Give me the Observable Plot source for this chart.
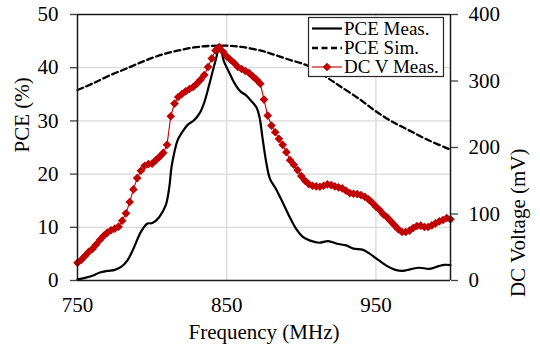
<!DOCTYPE html>
<html>
<head>
<meta charset="utf-8">
<script src="https://cdn.jsdelivr.net/npm/d3@7"></script>
<script src="https://cdn.jsdelivr.net/npm/@observablehq/plot@0.6"></script>
<style>
  html, body { margin: 0; padding: 0; background: #fff; }
  #chart { width: 540px; height: 352px; }
</style>
</head>
<body>
<div id="chart"></div>
<script>
// ---- Data ----
const freqTicks = [750, 850, 950];
const pceTicks = [0, 10, 20, 30, 40, 50];
const dcTicks = [0, 100, 200, 300, 400];

const pceMeasFreq = [750,755,760,765,770,775,779,783.5,788,792.4,796.9,800.2,804.7,809.1,811.5,813,815,817,820,824,828,832,835,838,842,845.5,848,851,855,859,863,866,870,872,874,876.5,879,883,888,893,897,901,906,912,918,924,930,935,941,946,950,957,963,968,973,979,986,992,996,1000];
const pceMeasVal = [0.2,0.5,0.9,1.5,1.8,2.0,2.5,3.8,6.3,9.1,10.7,10.8,11.9,14.1,17.5,21.3,24.2,26.3,27.8,29.3,30.1,31.5,33.5,36.5,40.8,43.9,41.3,39.5,37.2,35.6,34.8,33.9,32.5,30.7,26.8,22.2,19.1,17.2,14.4,11.5,9.5,8.2,7.5,7.1,7.4,6.9,6.6,6.0,5.8,5.0,4.2,2.8,2.0,1.8,2.1,2.4,2.2,2.7,2.95,2.9];

const pceSimFreq = [750,760,772,785,795,806,817,828,839,850,860,873,880,892,904,917,925,939,949,960,971,985,1000];
const pceSimVal = [35.8,37.0,38.6,40.1,41.3,42.4,43.2,43.8,44.1,44.15,43.9,43.2,42.6,41.5,40.4,38.2,36.7,34.1,32.0,30.0,28.4,26.4,24.6];

const dcFreq = [750,752.5,755,757.5,760,762.5,765,767.5,770,772.5,775,777.5,780,782.5,785,787.5,790,792.5,795,797.5,800,802.5,805,807.5,810,812.5,815,817.5,820,822.5,825,827.5,830,832.5,835,837.5,840,842.5,845,847.5,850,852.5,855,857.5,860,862.5,865,867.5,870,872.5,875,877.5,880,882.5,885,887.5,890,892.5,895,897.5,900,902.5,905,907.5,910,912.5,915,917.5,920,922.5,925,927.5,930,932.5,935,937.5,940,942.5,945,947.5,950,952.5,955,957.5,960,962.5,965,967.5,970,972.5,975,977.5,980,982.5,985,987.5,990,992.5,995,997.5,1000];
const dcVal = [26.6,31,37,43,47.5,54,61,67,72,75.5,78,81,90,101,118,137,154,165,172.5,175,175.7,181,186,192,204,247,266,276,280.5,284.5,288,291,296,302,309,321,334,346,351,344,337,332,327,321,318,315,312,307,302,296,272,248,233,223,213,204,193,181,174,166,157,150,145,142.5,141.5,141,142.5,144.5,143.5,141.5,140,138.5,135,131.5,130.5,130,128.5,126,122,117,111,106,99.5,95,89,83,77,73,73,75,79,82,82.5,80.5,80.5,83,86,89,91,94,92];

const legendLabels = ["PCE Meas.", "PCE Sim.", "DC V Meas."];

// ---- Tables for the library ----
const measData = pceMeasFreq.map((f, i) => ({f, v: pceMeasVal[i]}));
const simData = pceSimFreq.map((f, i) => ({f, v: pceSimVal[i]}));
const dcData = dcFreq.map((f, i) => ({f, v: dcVal[i]}));
const DC_PER_PCE = 8; // right axis 0..400 mV maps onto left 0..50 %

const red = "#c00000";
const axisColor = "#1a1a1a";
const gridColor = "#d9d9d9";
const font = "'Liberation Serif', 'Times New Roman', serif";
const markerR = 3.9;

const svg = Plot.plot({
  width: 540,
  height: 352,
  marginLeft: 77,
  marginRight: 90,
  marginTop: 14,
  marginBottom: 72,
  style: {fontFamily: font, fontSize: "21px", color: "#000", background: "#fff"},
  x: {domain: [750, 1000]},
  y: {domain: [0, 50]},
  marks: [
    Plot.gridY(pceTicks.slice(1, -1), {stroke: gridColor, strokeOpacity: 1, strokeWidth: 1.3}),
    Plot.gridX(freqTicks.slice(1), {stroke: gridColor, strokeOpacity: 1, strokeWidth: 1.3}),
    Plot.line(simData, {x: "f", y: "v", stroke: "#000", strokeWidth: 2.3, strokeDasharray: "6,3.5", curve: "catmull-rom"}),
    Plot.line(measData, {x: "f", y: "v", stroke: "#000", strokeWidth: 2.2, curve: "catmull-rom"}),
    Plot.line(dcData, {x: "f", y: d => d.v / DC_PER_PCE, stroke: red, strokeWidth: 1.1}),
    Plot.dot(dcData, {x: "f", y: d => d.v / DC_PER_PCE, symbol: "diamond2", r: markerR, fill: red, stroke: "none"}),
    Plot.ruleX([750, 1000], {stroke: axisColor, strokeWidth: 1.5}),
    Plot.ruleY([0, 50], {stroke: axisColor, strokeWidth: 1.5}),
    Plot.axisY({anchor: "left", ticks: pceTicks, tickSize: 7, tickPadding: 12, fontSize: 21, stroke: "#404040", strokeWidth: 1.3, label: null, tickFormat: d => String(d)}),
    Plot.axisY({anchor: "right", ticks: dcTicks.map(v => v / DC_PER_PCE), tickSize: 7, tickPadding: 11, fontSize: 21, stroke: "#404040", strokeWidth: 1.3, label: null, tickFormat: d => String(Math.round(d * DC_PER_PCE))}),
    Plot.axisX({ticks: freqTicks, tickSize: 0, tickPadding: 17, fontSize: 21, label: null, tickFormat: d => String(d)}),
    Plot.text(["Frequency (MHz)"], {frameAnchor: "bottom", dy: 58, fontSize: 21, fill: "#000"}),
    Plot.text(["PCE (%)"], {frameAnchor: "left", dx: -55, dy: 5, rotate: -90, fontSize: 21, fill: "#000"}),
    Plot.text(["DC Voltage (mV)"], {frameAnchor: "right", dx: 68, dy: 1, rotate: -90, fontSize: 21, fill: "#000"})
  ]
});

// ---- Legend (inside the plot, top right) ----
const lg = d3.select(svg).append("g")
  .style("font-family", font).style("font-size", "19px").style("text-anchor", "start");
lg.append("rect").attr("x", 308.5).attr("y", 17.5).attr("width", 135).attr("height", 59)
  .attr("fill", "#fff").attr("stroke", "#262626").attr("stroke-width", 1.2);
const rowsY = [28.5, 48, 67];
const styles = [
  {stroke: "#000", w: 2.2, dash: null, marker: false},
  {stroke: "#000", w: 2.3, dash: "6,3.5", marker: false},
  {stroke: red, w: 1.1, dash: null, marker: true}
];
legendLabels.forEach((label, i) => {
  const y = rowsY[i], s = styles[i];
  const ln = lg.append("line").attr("x1", 312).attr("x2", 342).attr("y1", y).attr("y2", y)
    .attr("stroke", s.stroke).attr("stroke-width", s.w);
  if (s.dash) ln.attr("stroke-dasharray", s.dash);
  if (s.marker) {
    lg.append("path").attr("d", d3.symbol(d3.symbolDiamond2, Math.PI * markerR * markerR)())
      .attr("transform", `translate(327,${y})`).attr("fill", red);
  }
  lg.append("text").attr("x", 344).attr("y", y).attr("dy", "0.34em").attr("fill", "#000")
    .style("font-family", font).style("font-size", "19px").style("text-anchor", "start").text(label);
});

document.getElementById("chart").appendChild(svg);
</script>
</body>
</html>
